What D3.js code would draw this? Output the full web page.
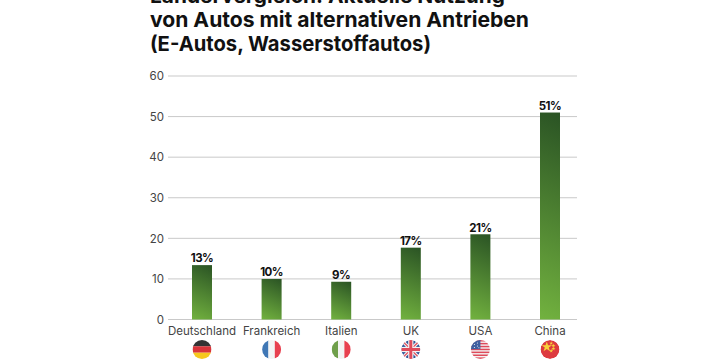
<!DOCTYPE html>
<html><head><meta charset="utf-8">
<script src="https://cdnjs.cloudflare.com/ajax/libs/d3/7.8.5/d3.min.js"></script>
<style>
html,body{margin:0;padding:0;background:#fff;overflow:hidden}
svg{display:block}
text{font-family:Inter,"Open Sans",sans-serif}
</style></head><body>
<svg id="c" width="728" height="364" aria-label="Ländervergleich Nutzung von Autos mit alternativen Antrieben"></svg>
<script>
const titleLines = ["Ländervergleich: Aktuelle Nutzung","von Autos mit alternativen Antrieben","(E-Autos, Wasserstoffautos)"];
const categories = ["Deutschland","Frankreich","Italien","UK","USA","China"];
const values = [13.4,10,9.3,17.7,21,51];
const valueLabels = ["13%","10%","9%","17%","21%","51%"];
const yTicks = [0,10,20,30,40,50,60];
const flagIds = ["de","fr","it","uk","us","cn"];

const svg = d3.select("#c");
const defs = svg.append("defs");

const x = d3.scalePoint().domain(categories).range([202,550]);
const y = d3.scaleLinear().domain([0,60]).range([319.5,76]);
const barW = 20, theta = 25*Math.PI/180;

// One gradient per bar, at a fixed on-screen angle
values.forEach((v,i)=>{
  const h = y(0)-y(v), cx = x(categories[i]), cyb = y(v)+h/2;
  const L = h*Math.cos(theta)+barW*Math.sin(theta);
  const dx = Math.sin(theta)*L/2, dy = Math.cos(theta)*L/2;
  const g = defs.append("linearGradient").attr("id","barGrad"+i).attr("gradientUnits","userSpaceOnUse")
    .attr("x1",cx-dx).attr("y1",cyb+dy).attr("x2",cx+dx).attr("y2",cyb-dy);
  g.append("stop").attr("offset","0%").attr("stop-color","#72b23f");
  g.append("stop").attr("offset","100%").attr("stop-color","#2a5324");
});

// Title
const titleW = [355,379,281];
svg.selectAll("text.title").data(titleLines).join("text").attr("class","title")
  .attr("x",150).attr("y",(d,i)=>3+i*23.9)
  .attr("font-size",20.5).attr("font-weight",700).attr("fill","#111")
  .attr("textLength",(d,i)=>titleW[i]).attr("lengthAdjust","spacingAndGlyphs")
  .text(d=>d);

// Grid
svg.selectAll("line.grid").data(yTicks).join("line").attr("class","grid")
  .attr("x1",168).attr("x2",577).attr("y1",d=>y(d)).attr("y2",d=>y(d))
  .attr("stroke","#c9c9c9").attr("stroke-width",1);
svg.selectAll("text.yt").data(yTicks).join("text").attr("class","yt")
  .attr("x",164).attr("y",d=>y(d)+4.2).attr("text-anchor","end")
  .attr("font-size",11.5).attr("fill","#444").text(d=>d);

// Bars
svg.selectAll("rect.bar").data(values).join("rect").attr("class","bar")
  .attr("x",(d,i)=>x(categories[i])-barW/2).attr("width",barW)
  .attr("y",d=>y(d)).attr("height",d=>y(0)-y(d))
  .attr("fill",(d,i)=>`url(#barGrad${i})`);

svg.selectAll("text.val").data(values).join("text").attr("class","val")
  .attr("x",(d,i)=>x(categories[i])).attr("y",d=>y(d)-2.7)
  .attr("text-anchor","middle").attr("font-size",11.5).attr("font-weight",700).attr("fill","#111")
  .attr("letter-spacing",-0.5)
  .text((d,i)=>valueLabels[i]);

svg.selectAll("text.cat").data(categories).join("text").attr("class","cat")
  .attr("x",d=>x(d)).attr("y",335).attr("text-anchor","middle")
  .attr("font-size",11.5).attr("fill","#444").text(d=>d);

// Flags
const R = 9.5, cy = 349.5;
const flags = svg.selectAll("g.flag").data(categories).join("g").attr("class","flag")
  .attr("transform",d=>`translate(${x(d)},${cy})`);
defs.append("clipPath").attr("id","fc").append("circle").attr("r",R);
flags.attr("clip-path","url(#fc)");
const band = (g,rects)=>rects.forEach(r=>g.append("rect").attr("x",r[0]).attr("y",r[1]).attr("width",r[2]).attr("height",r[3]).attr("fill",r[4]));
flags.each(function(d,i){
  const g = d3.select(this), id = flagIds[i];
  if(id==="de") band(g,[[-R,-R,2*R,6.4,"#333"],[-R,-3.2,2*R,6.4,"#d9343a"],[-R,3.2,2*R,6.4,"#f6c81e"]]);
  if(id==="fr") band(g,[[-R,-R,6.4,2*R,"#3f77b5"],[-3.2,-R,6.4,2*R,"#f3f3f3"],[3.2,-R,6.4,2*R,"#e8404f"]]);
  if(id==="it") band(g,[[-R,-R,6.4,2*R,"#6f9f4b"],[-3.2,-R,6.4,2*R,"#f3f3f3"],[3.2,-R,6.4,2*R,"#e8404f"]]);
  if(id==="uk"){
    g.append("circle").attr("r",R).attr("fill","#2f5597");
    [[-R,-R,R,R],[-R,R,R,-R]].forEach(l=>{
      g.append("line").attr("x1",l[0]).attr("y1",l[1]).attr("x2",l[2]).attr("y2",l[3]).attr("stroke","#f2f2f2").attr("stroke-width",3.4);
      g.append("line").attr("x1",l[0]).attr("y1",l[1]).attr("x2",l[2]).attr("y2",l[3]).attr("stroke","#df4a5a").attr("stroke-width",1.2);
    });
    band(g,[[-R,-2.6,2*R,5.2,"#f2f2f2"],[-2.6,-R,5.2,2*R,"#f2f2f2"],[-R,-1.5,2*R,3,"#df4a5a"],[-1.5,-R,3,2*R,"#df4a5a"]]);
  }
  if(id==="us"){
    g.append("circle").attr("r",R).attr("fill","#f3f3f3");
    d3.range(-R,R,2.9).forEach((s,k)=>band(g,[[-R,s,2*R,1.5,"#df4a5a"]]));
    band(g,[[-R,-R,R,R-0.3,"#3f5fa0"]]);
    [[-6,-5],[-3,-6.5],[-3,-3.5],[-6,-2],[-1.5,-1.8]].forEach(p=>g.append("circle").attr("cx",p[0]).attr("cy",p[1]).attr("r",0.55).attr("fill","#fff"));
  }
  if(id==="cn"){
    g.append("circle").attr("r",R).attr("fill","#dd3a3f");
    const star = d3.symbol().type(d3.symbolStar);
    [[-3.2,-2.6,34],[1.2,-6.2,5],[3.4,-3.8,5],[3.4,-0.8,5],[1.2,1.4,5]].forEach(p=>
      g.append("path").attr("d",star.size(p[2])()).attr("transform",`translate(${p[0]},${p[1]})`).attr("fill","#f8d23a"));
  }
});
</script></body></html>
